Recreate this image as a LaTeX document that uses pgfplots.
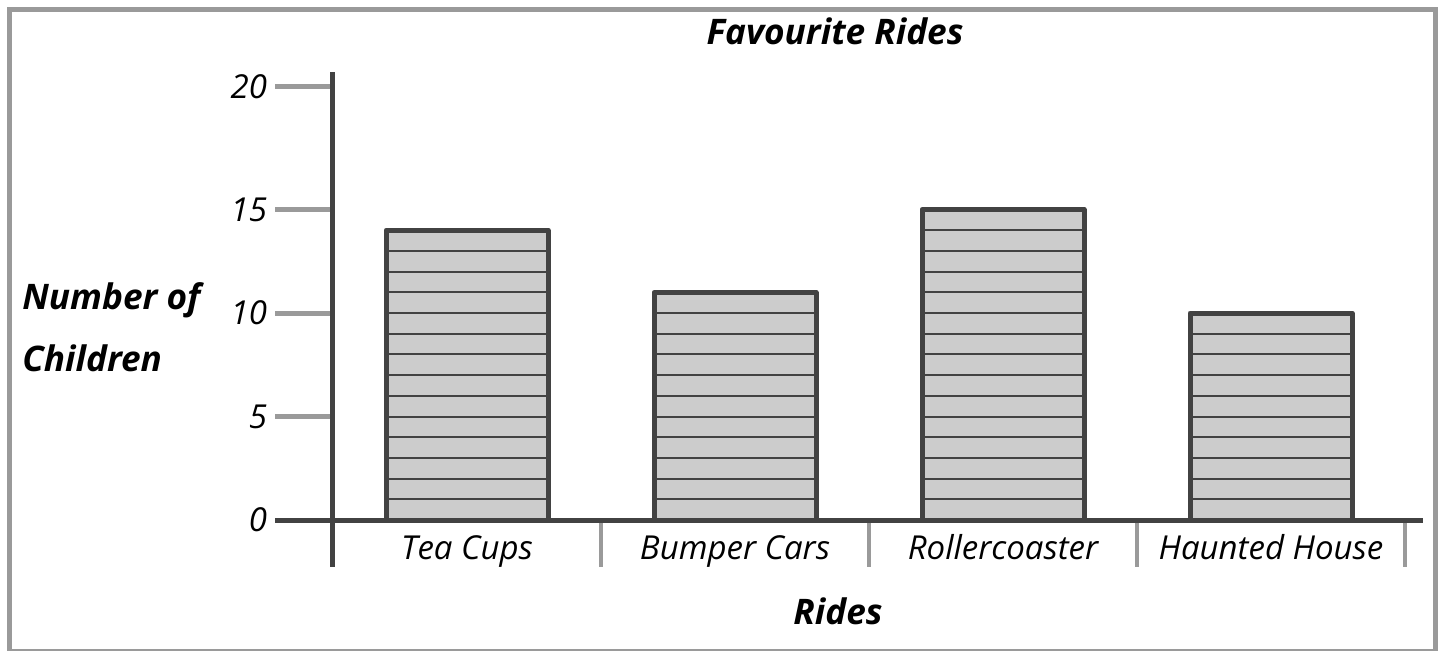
\documentclass[border=0pt]{standalone}
\usepackage{fontspec}
\setmainfont{Open Sans}
\usepackage{pgfplots}
\pgfplotsset{compat=1.18}
\definecolor{frame}{HTML}{9A9A9A}
\definecolor{dark}{HTML}{424242}
\definecolor{barfill}{HTML}{CCCCCC}
\newcommand{\barlines}[2]{%
  \pgfplotsinvokeforeach{1,...,#2}{\addplot[dark, line width=1pt, forget plot] coordinates {({#1-0.295},##1) ({#1+0.295},##1)};}}
\begin{document}
\begin{tikzpicture}
\useasboundingbox (-233.5pt,-65pt) rectangle (488.5pt,260pt);
\draw[frame, line width=2.5pt] (-228.75pt,-65.6pt) rectangle (484.25pt,255.5pt);
\begin{axis}[
  anchor=origin, at={(0pt,0pt)},
  x=134pt, y=10.35pt,
  xmin=-0.72, xmax=3.57, ymin=-2.3, ymax=21.8,
  axis lines=none, clip=false,
  ticks=none,
]
% bars
\addplot[ybar, bar width=81pt, fill=barfill, draw=none] coordinates {(0,14) (1,11) (2,15) (3,10)};
\barlines{0}{13}
\barlines{1}{10}
\barlines{2}{14}
\barlines{3}{9}
\addplot[ybar, bar width=81pt, fill=none, draw=dark, line width=2.5pt, line join=round] coordinates {(0,14) (1,11) (2,15) (3,10)};
% y ticks
\draw[frame, line width=2.5pt] (axis cs:-0.716,0) -- (axis cs:-0.5,0);
\draw[frame, line width=2.5pt] (axis cs:-0.716,5) -- (axis cs:-0.5,5);
\draw[frame, line width=2.5pt] (axis cs:-0.716,10) -- (axis cs:-0.5,10);
\draw[frame, line width=2.5pt] (axis cs:-0.716,15) -- (axis cs:-0.5,15);
\draw[frame, line width=2.5pt] (axis cs:-0.716,20.95) -- (axis cs:-0.5,20.95);
% separators
\draw[frame, line width=2pt] (axis cs:0.5,0) -- (axis cs:0.5,-2.27);
\draw[frame, line width=2pt] (axis cs:1.5,0) -- (axis cs:1.5,-2.27);
\draw[frame, line width=2pt] (axis cs:2.5,0) -- (axis cs:2.5,-2.27);
\draw[frame, line width=2pt] (axis cs:3.5,0) -- (axis cs:3.5,-2.27);
% axes
\draw[dark, line width=2.5pt] (axis cs:-0.5,-2.27) -- (axis cs:-0.5,21.65);
\draw[dark, line width=2.5pt] (axis cs:-0.716,0) -- (axis cs:3.568,0);
% tick labels
\node[anchor=east, font=\fontsize{16.5}{19}\selectfont\itshape, inner sep=0pt] at (axis cs:-0.745,0) {0};
\node[anchor=east, font=\fontsize{16.5}{19}\selectfont\itshape, inner sep=0pt] at (axis cs:-0.745,5) {5};
\node[anchor=east, font=\fontsize{16.5}{19}\selectfont\itshape, inner sep=0pt] at (axis cs:-0.745,10) {10};
\node[anchor=east, font=\fontsize{16.5}{19}\selectfont\itshape, inner sep=0pt] at (axis cs:-0.745,15) {15};
\node[anchor=east, font=\fontsize{16.5}{19}\selectfont\itshape, inner sep=0pt] at (axis cs:-0.745,20.95) {20};
\node[anchor=base, inner sep=0pt, font=\fontsize{16.5}{19}\selectfont\itshape] at (axis cs:0,-1.93) {Tea Cups};
\node[anchor=base, inner sep=0pt, font=\fontsize{16.5}{19}\selectfont\itshape] at (axis cs:1,-1.93) {Bumper Cars};
\node[anchor=base, inner sep=0pt, font=\fontsize{16.5}{19}\selectfont\itshape] at (axis cs:2,-1.93) {Rollercoaster};
\node[anchor=base, inner sep=0pt, font=\fontsize{16.5}{19}\selectfont\itshape] at (axis cs:3,-1.93) {Haunted House};
\end{axis}
\node[anchor=base, inner sep=0pt, font=\fontsize{17.6}{20}\selectfont\bfseries\itshape] at (184pt,238pt) {Favourite Rides};
\node[anchor=base, inner sep=0pt, font=\fontsize{17.6}{20}\selectfont\bfseries\itshape] at (185.5pt,-52pt) {Rides};
\node[font=\fontsize{17.6}{20}\selectfont\bfseries\itshape, anchor=base west, inner sep=0pt] at (-222.5pt,105.5pt) {Number of};
\node[font=\fontsize{17.6}{20}\selectfont\bfseries\itshape, anchor=base west, inner sep=0pt] at (-222.5pt,74.5pt) {Children};
\end{tikzpicture}
\end{document}
